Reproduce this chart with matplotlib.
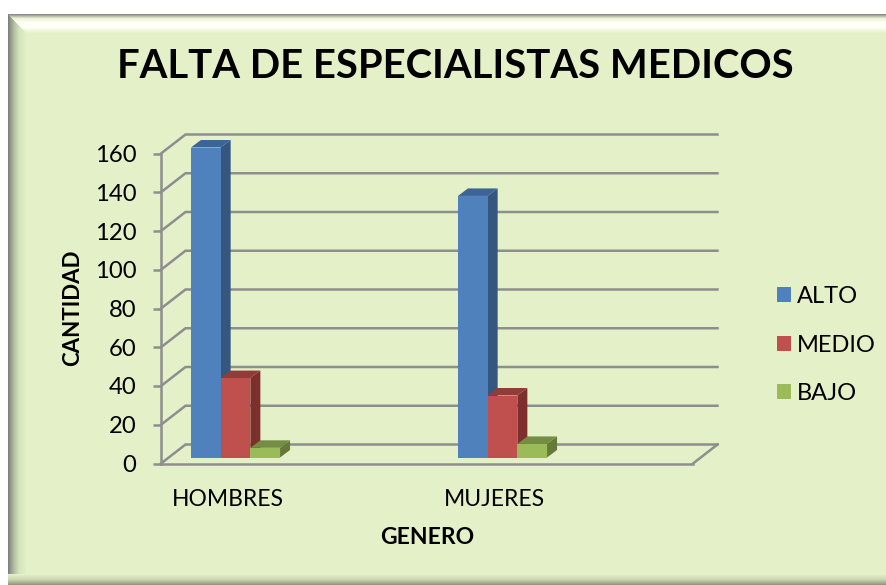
import numpy as np
import matplotlib
matplotlib.use('Agg')
import matplotlib.pyplot as plt
from matplotlib.patches import Patch, Polygon
from matplotlib.transforms import Affine2D

plt.rcParams['font.family'] = ['Lato', 'DejaVu Sans']

# Data
categories = ["HOMBRES", "MUJERES"]
series = ["ALTO", "MEDIO", "BAJO"]
alto = [160, 135]
medio = [41, 32]
bajo = [5, 7]
y_ticks = [0, 20, 40, 60, 80, 100, 120, 140, 160]

# front, side, top
COLORS = {
    "ALTO": ("#4F81BD", "#34567F", "#3C6496"),
    "MEDIO": ("#C0504D", "#7D2F2D", "#923C3A"),
    "BAJO": ("#9BBB59", "#66793A", "#748C43"),
}
GRID = "#8E8E8E"
LINE_W = 1.8

W, H = 887, 585
BG = np.array([227, 240, 200]) / 255

# pixel layout of the front plane
LEFT, RIGHT, TOP, BOTTOM = 161, 693, 153.5, 463.5
PX_CAT = 267.0
PX_VAL = (BOTTOM - TOP) / 160
CAT0 = 235.5
BAR_W = 29.7 / PX_CAT
WALL_DX, WALL_DY = 24.5, 19.0
BAR_DX, BAR_DY = 10.0, 7.5
BAR_BASE = 6 / PX_VAL


def shift(x, v, dx, dy):
    # move a data point by a depth offset given in pixels
    return x + dx / PX_CAT, v + dy / PX_VAL


def make_background():
    img = np.ones((H, W, 3))
    yy, xx = np.mgrid[0:H, 0:W]
    # top bevel
    top_y = [14, 16, 18, 22, 27, 33]
    top_c = np.array([[.55, .55, .55], [.75, .77, .70], [.93, .96, .84], [1, 1, .97], [1, 1, .97], BG])
    # left bevel
    left_x = [8, 10, 14, 19, 26]
    left_c = np.array([[.50, .50, .50], [.58, .60, .54], [.72, .76, .64], [.84, .90, .74], BG])
    # bottom bevel
    bot_y = [574, 579, 585]
    bot_c = np.array([BG, [.80, .84, .70], [.52, .56, .44]])
    for c in range(3):
        t = np.interp(yy, top_y, top_c[:, c])
        l = np.interp(xx, left_x, left_c[:, c])
        b = np.interp(yy, bot_y, bot_c[:, c])
        panel = np.full((H, W), BG[c])
        panel = np.where(yy < 33, t, panel)
        panel = np.where((xx < 26) & (xx - 8 < yy - 14), l, panel)
        panel = np.where(yy >= 574, b, panel)
        img[:, :, c] = np.where((yy >= 14) & (xx >= 8), panel, 1.0)
    return img


fig = plt.figure(figsize=(W / 100, H / 100), dpi=100, facecolor="white")

bg = fig.add_axes([0, 0, 1, 1], zorder=0)
bg.imshow(make_background(), aspect="auto", interpolation="nearest")
bg.axis("off")

ax = fig.add_axes([LEFT / W, 1 - BOTTOM / H, (RIGHT - LEFT) / W, (BOTTOM - TOP) / H], zorder=1)
ax.patch.set_alpha(0)
x0 = (LEFT - CAT0) / PX_CAT
x1 = (RIGHT - CAT0) / PX_CAT
ax.set_xlim(x0, x1)
ax.set_ylim(0, 160)

# walls
for v in y_ticks:
    bx, by = shift(x0, v, WALL_DX, WALL_DY)
    ex, _ = shift(x1, v, WALL_DX, WALL_DY)
    ax.plot([x0, bx, ex], [v, by, by], color=GRID, lw=LINE_W, clip_on=False, zorder=1,
            solid_joinstyle="miter")
ex, ey = shift(x1, 0, WALL_DX, WALL_DY)
ax.plot([x1, ex], [0, ey], color=GRID, lw=LINE_W, clip_on=False, zorder=1)

# bars
groups = {"ALTO": alto, "MEDIO": medio, "BAJO": bajo}
for i in range(len(categories)):
    for j, name in enumerate(series):
        val = groups[name][i]
        front, side, top = COLORS[name]
        left = i + (j - 1.5) * BAR_W
        right = left + BAR_W
        low, high = BAR_BASE, BAR_BASE + val
        ax.bar(left, val, BAR_W, bottom=low, align="edge", color=front, lw=0, zorder=3 + j * 2,
               clip_on=False)
        side_pts = [(right, low), shift(right, low, BAR_DX, BAR_DY),
                    shift(right, high, BAR_DX, BAR_DY), (right, high)]
        top_pts = [(left, high), shift(left, high, BAR_DX, BAR_DY),
                   shift(right, high, BAR_DX, BAR_DY), (right, high)]
        ax.add_patch(Polygon(side_pts, closed=True, fc=side, ec="none", zorder=2 + j * 2, clip_on=False))
        ax.add_patch(Polygon(top_pts, closed=True, fc=top, ec="none", zorder=2 + j * 2, clip_on=False))

# axes
for s in ["top", "right"]:
    ax.spines[s].set_visible(False)
for s in ["left", "bottom"]:
    ax.spines[s].set_color(GRID)
    ax.spines[s].set_linewidth(LINE_W)
    ax.spines[s].set_zorder(2)
ax.set_yticks(y_ticks)
ax.set_yticklabels([str(v) for v in y_ticks])
ax.tick_params(axis="y", length=5.8, width=LINE_W, color=GRID, pad=12, labelsize=17.2, labelcolor="black")
ax.set_xticks(range(len(categories)))
ax.set_xticklabels(categories)
ax.tick_params(axis="x", length=0, pad=18.5, labelsize=16.5, labelcolor="black")
for lab in ax.get_xticklabels():
    lab.set_transform(lab.get_transform() + Affine2D().translate(-8, 0))

# text
fig.text(455.5 / W, 1 - 67 / H, "FALTA DE ESPECIALISTAS MEDICOS", ha="center", va="center",
         fontsize=28.8, fontweight="bold", color="black", zorder=5)
fig.text(73 / W, 1 - 308 / H, "CANTIDAD", rotation=90, ha="center", va="center",
         fontsize=16, fontweight="bold", color="black", zorder=5)
fig.text(427 / W, 1 - 538 / H, "GENERO", ha="center", va="center",
         fontsize=16.5, fontweight="bold", color="black", zorder=5)

# legend
handles = [Patch(fc=COLORS[s][0], ec="none") for s in series]
fig.legend(handles, series, loc="center left", bbox_to_anchor=(777 / W, 1 - 345 / H), frameon=False,
           fontsize=17, labelspacing=1.17, handlelength=0.6, handleheight=0.6, handletextpad=0.24,
           borderpad=0, borderaxespad=0, labelcolor="black").set_zorder(5)

fig.savefig("out.png", dpi=100, facecolor="white")
